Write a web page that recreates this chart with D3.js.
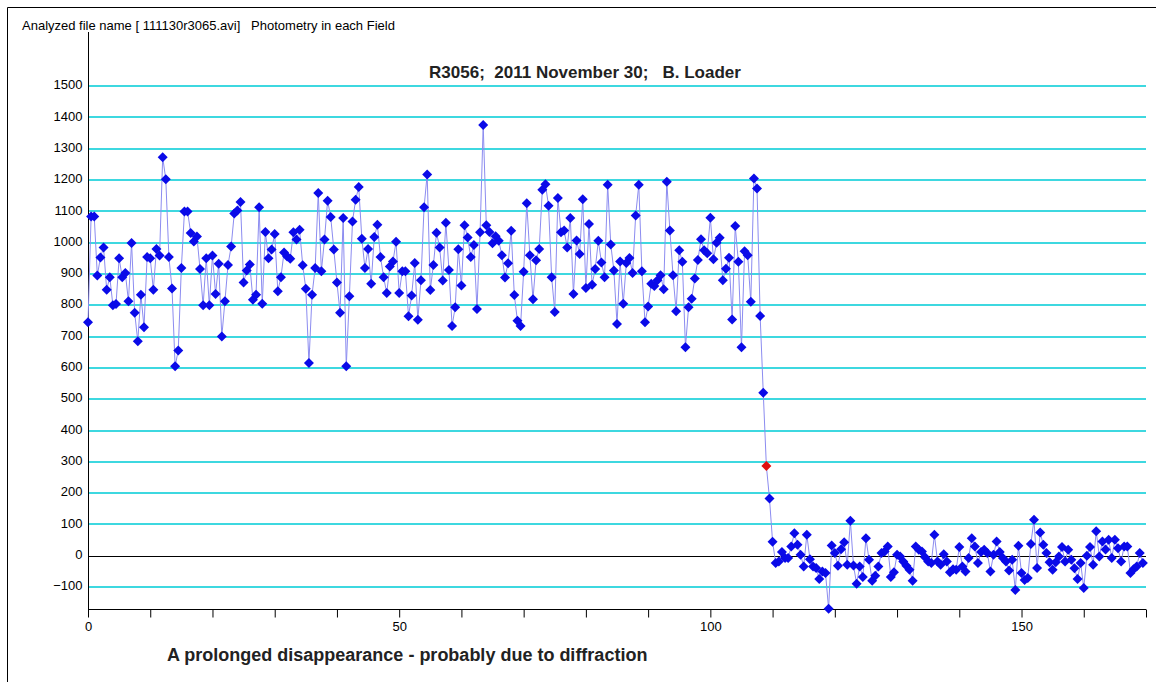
<!DOCTYPE html>
<html>
<head>
<meta charset="utf-8">
<script src="https://cdnjs.cloudflare.com/ajax/libs/d3/7.8.5/d3.min.js"></script>
<style>
  html, body { margin: 0; padding: 0; background: #ffffff; }
  svg { display: block; font-family: "Liberation Sans", Arial, sans-serif; }
  text { white-space: pre; }
</style>
</head>
<body>
<svg id="chart" width="1156" height="682"></svg>
<script>
// ---- data ----
const headerText = "Analyzed file name [ 111130r3065.avi]   Photometry in each Field";
const chartTitle = "R3056;  2011 November 30;   B. Loader";
const footerText = "A prolonged disappearance - probably due to diffraction";
const fieldStep = 0.5;           // one point per video field
const highlightIndex = 218;      // the red point (x = 109)
const yTickValues = [-100, 0, 100, 200, 300, 400, 500, 600, 700, 800, 900, 1000, 1100, 1200, 1300, 1400, 1500];
const xTickValues = [0, 10, 20, 30, 40, 50, 60, 70, 80, 90, 100, 110, 120, 130, 140, 150, 160, 170];
const xLabelValues = [0, 50, 100, 150];
const fluxValues = [
  746,1084,1084,895,953,985,850,890,800,804,
  950,890,903,813,999,776,685,834,730,954,
  950,850,980,959,1273,1203,954,854,605,656,
  919,1100,1100,1031,1004,1020,916,800,950,800,
  959,836,933,700,813,929,988,1093,1103,1130,
  873,911,930,818,834,1113,805,1034,950,978,
  1028,845,890,969,956,949,1033,1010,1041,928,
  853,616,834,919,1159,909,1010,1134,1082,978,
  873,776,1079,605,829,1068,1137,1178,1013,919,
  980,869,1018,1057,954,890,839,924,940,1003,
  839,909,909,765,831,935,754,880,1113,1218,
  849,929,1032,985,879,1064,913,734,794,979,
  863,1056,1017,954,993,788,1033,1376,1056,1034,
  998,1021,1006,960,889,934,1038,833,751,734,
  907,1126,960,819,944,980,1169,1187,1118,890,
  779,1143,1033,1039,985,1079,836,1007,964,1139,
  855,1060,866,916,1006,937,890,1185,994,911,
  740,940,805,935,951,903,1087,1185,909,746,
  796,869,862,880,896,851,1195,1039,896,781,
  976,939,666,794,821,886,945,1011,976,966,
  1080,947,1000,1016,880,917,952,755,1053,939,
  666,973,960,811,1205,1173,766,521,287,183,
  45,-23,-18,12,-7,-7,30,72,35,3,
  -34,67,-11,-34,-39,-74,-50,-55,-169,33,
  9,-32,21,43,-29,112,-31,-89,-34,-68,
  56,-13,-80,-64,-34,9,14,30,-68,-53,
  3,-2,-18,-32,-45,-80,30,19,14,-5,
  -18,-23,67,-18,-29,5,-18,-53,-43,-45,
  28,-34,-50,-7,56,30,-23,12,19,9,
  -50,3,46,12,-7,-18,-47,-13,-109,32,
  -55,-77,-71,38,115,-39,74,35,9,-21,
  -45,-21,-2,28,-18,19,-13,-40,-74,-23,
  -103,0,28,-29,78,-2,46,20,51,-7,
  51,24,-18,30,30,-55,-43,-34,9,-23
];

// ---- layout ----
const svg = d3.select("#chart");
const W = 1156, H = 682;
const plot = { left: 88, right: 1146, top: 32, bottom: 609 };

svg.append("rect").attr("width", W).attr("height", H).attr("fill", "#ffffff");

// outer frame (left and top edges)
svg.append("path")
  .attr("d", `M7.5,${H} V7.5 H${W}`)
  .attr("fill", "none").attr("stroke", "#000").attr("stroke-width", 1);

const points = fluxValues.map((v, i) => ({ x: i * fieldStep, y: v, i }));

const x = d3.scaleLinear().domain([0, 170]).range([plot.left, plot.right]);
const y = d3.scaleLinear().domain([-170, 1673]).range([plot.bottom, plot.top]);

// gridlines
svg.append("g").selectAll("line")
  .data(yTickValues.filter(v => v !== 0))
  .join("line")
  .attr("x1", plot.left).attr("x2", plot.right)
  .attr("y1", d => Math.round(y(d))).attr("y2", d => Math.round(y(d)))
  .attr("stroke", "#3ed8e0").attr("stroke-width", 2);

// zero line
svg.append("line")
  .attr("x1", plot.left).attr("x2", plot.right)
  .attr("y1", Math.round(y(0)) + 0.5).attr("y2", Math.round(y(0)) + 0.5)
  .attr("stroke", "#000").attr("stroke-width", 1);

// y axis
const yAxis = d3.axisLeft(y).tickValues(yTickValues).tickSize(0).tickPadding(6).tickFormat(d3.format("d"));
const gy = svg.append("g").attr("transform", `translate(${plot.left + 0.5},0)`).call(yAxis);
gy.select(".domain").attr("d", `M0,${plot.top}V${plot.bottom}`).attr("stroke", "#000");
gy.selectAll("text").attr("font-size", 13).attr("fill", "#000")
  .attr("font-family", "Liberation Sans, Arial, sans-serif").attr("dy", "0.2em");

// x axis
const xAxis = d3.axisBottom(x).tickValues(xTickValues).tickSize(8).tickPadding(4)
  .tickFormat(d => xLabelValues.includes(d) ? d3.format("d")(d) : "");
const gx = svg.append("g").attr("transform", `translate(0,${plot.bottom + 0.5})`).call(xAxis);
gx.select(".domain").attr("d", `M${plot.left},0H${plot.right}`).attr("stroke", "#000");
gx.selectAll(".tick line").attr("stroke", "#000");
gx.selectAll("text").attr("font-size", 13).attr("fill", "#000")
  .attr("font-family", "Liberation Sans, Arial, sans-serif");

// data line
const line = d3.line().x(d => x(d.x)).y(d => y(d.y));
svg.append("path").datum(points)
  .attr("d", line).attr("fill", "none")
  .attr("stroke", "#8c8cf0").attr("stroke-width", 1);

// markers
const diamond = "M0,-5L5,0L0,5L-5,0Z";
svg.append("g").selectAll("path")
  .data(points)
  .join("path")
  .attr("d", diamond)
  .attr("transform", d => `translate(${x(d.x)},${y(d.y)})`)
  .attr("fill", d => d.i === highlightIndex ? "#e01010" : "#0a0ae8");

// texts
svg.append("text").attr("x", 22).attr("y", 30)
  .attr("font-size", 13).attr("fill", "#000").text(headerText);
svg.append("text").attr("x", 585).attr("y", 78)
  .attr("text-anchor", "middle").attr("font-size", 17).attr("font-weight", "bold")
  .attr("fill", "#222").text(chartTitle);
svg.append("text").attr("x", 167).attr("y", 661)
  .attr("font-size", 18).attr("font-weight", "bold")
  .attr("fill", "#222").text(footerText);
</script>
</body>
</html>
